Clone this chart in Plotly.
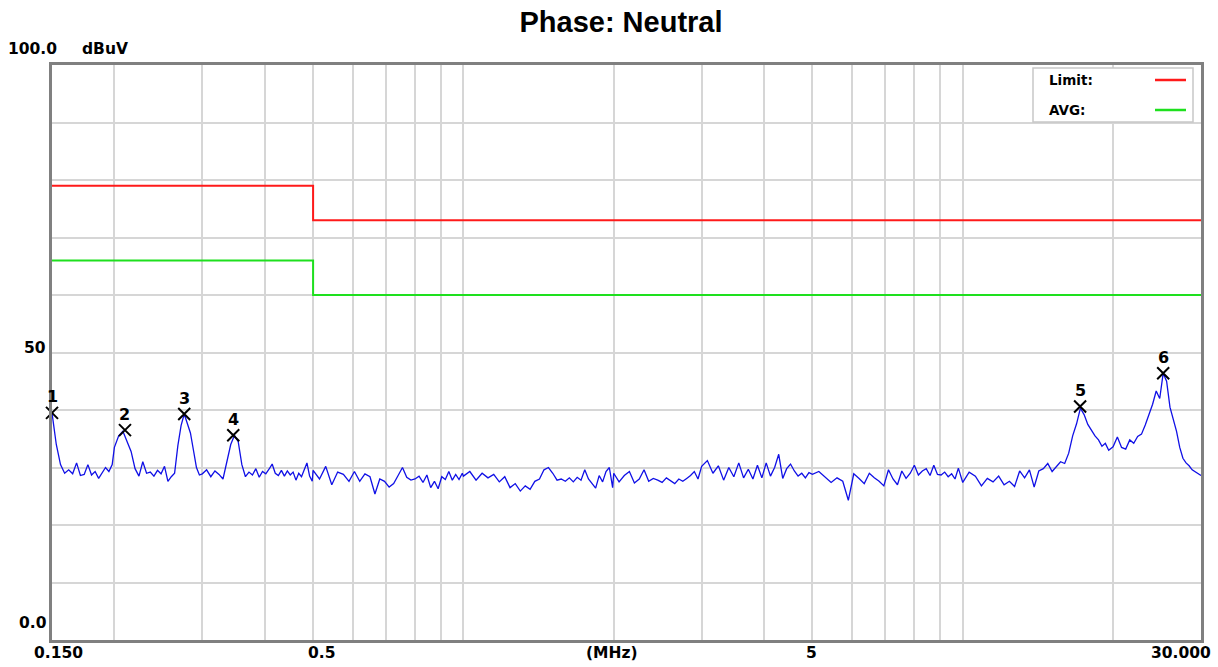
import numpy as np
import plotly.graph_objects as go

# ---------------- data ----------------
freq_mhz = [
    0.150, 0.153, 0.156, 0.159, 0.162, 0.165, 0.168, 0.171, 0.174, 0.177, 0.180, 0.183, 0.186, 0.189, 0.192, 0.195, 0.198,
    0.200, 0.204, 0.208, 0.212, 0.216, 0.220, 0.224, 0.228, 0.232, 0.236, 0.240, 0.244, 0.248, 0.252, 0.256, 0.260,
    0.264, 0.268, 0.272, 0.276, 0.280, 0.284, 0.288, 0.292, 0.296,
    0.300, 0.306, 0.312, 0.318, 0.324, 0.330, 0.336, 0.342, 0.348, 0.354, 0.360, 0.366, 0.372, 0.378, 0.384, 0.390,
    0.396, 0.402, 0.408, 0.414, 0.420, 0.426, 0.432, 0.438, 0.444, 0.450, 0.456, 0.462, 0.468, 0.474, 0.480, 0.486,
    0.492, 0.498,
    0.500, 0.515, 0.530, 0.545, 0.560, 0.575, 0.590, 0.605, 0.620, 0.635, 0.650, 0.665, 0.680, 0.695, 0.710, 0.725,
    0.740, 0.755, 0.770, 0.785, 0.800, 0.815, 0.830, 0.845, 0.860, 0.875, 0.890, 0.905, 0.920, 0.935, 0.950, 0.965,
    0.980, 0.995,
    1.00, 1.03, 1.06, 1.09, 1.12, 1.15, 1.18, 1.21, 1.24, 1.27, 1.30, 1.33, 1.36, 1.39, 1.42, 1.45, 1.48, 1.51,
    1.54, 1.57, 1.60, 1.63, 1.66, 1.69, 1.72, 1.75, 1.78, 1.81, 1.84, 1.87, 1.90, 1.93, 1.96, 1.99,
    2.00, 2.05, 2.10, 2.15, 2.20, 2.25, 2.30, 2.35, 2.40, 2.45, 2.50, 2.55, 2.60, 2.65, 2.70, 2.75, 2.80, 2.85,
    2.90, 2.95,
    3.00, 3.08, 3.16, 3.24, 3.32, 3.40, 3.48, 3.56, 3.64, 3.72, 3.80, 3.88, 3.96, 4.04, 4.12, 4.20, 4.28, 4.36,
    4.44, 4.52, 4.60, 4.68, 4.76, 4.84, 4.92,
    5.00, 5.15, 5.30, 5.45, 5.60, 5.75, 5.90, 6.05, 6.20, 6.35, 6.50, 6.65, 6.80, 6.95, 7.10, 7.25, 7.40, 7.55,
    7.70, 7.85, 8.00, 8.15, 8.30, 8.45, 8.60, 8.75, 8.90, 9.05, 9.20, 9.35, 9.50, 9.65, 9.80,
    10.0, 10.3, 10.6, 10.9, 11.2, 11.5, 11.8, 12.1, 12.4, 12.7, 13.0, 13.3, 13.6, 13.9, 14.2, 14.5, 14.8, 15.1,
    15.4, 15.7, 16.0, 16.3, 16.6, 16.9, 17.2, 17.5, 17.8, 18.1, 18.4, 18.7, 19.0, 19.3, 19.6,
    20.0, 20.4, 20.8, 21.2, 21.6, 22.0, 22.4, 22.8, 23.2, 23.6, 24.0, 24.4, 24.8, 25.2, 25.6, 26.0, 26.4, 26.8,
    27.2, 27.6, 28.0, 28.4, 28.8, 29.2, 29.6, 30.0,
]
level_dbuv = [
    39.5, 34.0, 30.5, 29.0, 29.6, 28.9, 30.8, 28.6, 28.8, 30.5, 28.7, 29.3, 28.1, 29.0, 30.0, 29.3, 30.5,
    33.5, 35.5, 36.3, 34.5, 32.8, 29.8, 28.5, 31.0, 29.0, 29.2, 28.5, 29.5, 28.9, 30.2, 27.6, 28.4,
    29.0, 33.8, 37.3, 39.3, 37.5, 36.0, 33.0, 30.0, 28.7,
    28.9, 29.6, 28.4, 29.4, 28.8, 28.0, 31.0, 34.0, 35.6, 34.5, 30.5, 28.4, 29.2, 28.7, 29.8, 28.3,
    29.3, 28.9, 29.7, 30.6, 29.0, 28.6, 29.5, 28.5, 29.4, 28.7, 29.2, 27.8, 29.0, 28.4, 29.6, 30.8,
    28.5, 27.6,
    29.5, 28.0, 30.2, 27.0, 29.2, 28.8, 27.6, 29.3, 27.6, 28.9, 28.4, 25.4, 28.0, 27.6, 26.6, 27.2,
    28.6, 30.0, 28.3, 27.8, 28.0, 28.5, 27.4, 28.7, 26.5, 27.6, 26.3, 28.4, 27.9, 29.3, 27.8, 28.8,
    27.9, 29.0,
    28.5, 29.3, 27.8, 29.0, 28.2, 28.8, 27.5, 28.4, 26.5, 27.2, 25.9, 26.8, 26.2, 27.6, 28.0, 29.6, 30.0, 29.0,
    27.8, 28.0, 27.6, 28.2, 27.5, 28.3, 27.8, 29.6, 28.0, 27.2, 26.4, 28.6, 27.5, 29.3, 30.0, 26.5,
    29.0, 27.5, 28.6, 29.3, 27.3, 28.0, 29.6, 27.6, 28.1, 27.8, 27.4, 28.2, 27.7, 27.2, 28.0, 27.6, 28.1, 28.6,
    29.3, 28.0,
    30.2, 31.2, 29.0, 30.3, 27.8, 30.0, 28.4, 30.8, 28.2, 29.7, 28.0, 30.4, 28.2, 30.8, 28.5, 30.0, 32.3, 28.1,
    29.8, 30.6, 29.4, 28.5, 29.0, 28.2, 29.1,
    28.8, 29.3, 28.3, 27.4, 28.2, 27.6, 24.3, 28.9, 28.1, 27.2, 29.0, 28.2, 27.6, 26.8, 29.6, 28.0, 27.0, 29.4,
    28.1, 29.0, 30.4, 28.7, 29.4, 29.8, 28.6, 30.4, 28.8, 28.7, 29.2, 28.4, 28.9, 28.0, 29.9,
    27.4, 29.2, 28.5, 26.8, 28.1, 27.5, 28.5, 27.0, 27.6, 26.7, 29.4, 28.2, 29.6, 26.6, 29.4, 29.8, 30.7, 29.3,
    30.2, 31.0, 30.7, 32.5, 35.5, 37.6, 40.3, 39.2, 37.5, 36.4, 35.5, 34.8, 33.7, 34.2, 33.0,
    33.6, 35.3, 33.5, 33.2, 34.8, 34.2, 35.4, 35.8, 37.4, 39.2, 41.0, 43.3, 42.0, 46.4, 45.0, 40.5, 38.6, 36.3,
    33.5, 31.6, 30.8, 30.3, 29.6, 29.3, 28.9, 28.6,
]

limit_freq = [0.15, 0.5, 30.0]
limit_qp = [79, 73, 73]
limit_avg = [66, 60, 60]

marker_freq = [0.150, 0.210, 0.276, 0.346, 17.18, 25.2]
marker_level = [39.5, 36.5, 39.3, 35.6, 40.6, 46.4]
marker_label = ["1", "2", "3", "4", "5", "6"]

x_grid = [0.2, 0.3, 0.4, 0.5, 0.6, 0.7, 0.8, 0.9, 1, 2, 3, 4, 5, 6, 7, 8, 9, 10, 20]
y_grid = [10, 20, 30, 40, 50, 60, 70, 80, 90]

# ---------------- layout geometry ----------------
W, H = 1218, 667
L, R, T, B = 52, 1201, 65, 640


def px(x):
    return (x - L) / (R - L)


def py(y):
    return (B - y) / (B - T)


fig = go.Figure()

fig.add_trace(go.Scatter(x=limit_freq, y=limit_qp, mode="lines", line=dict(color="#ff1a1a", width=2, shape="hv"),
                         showlegend=False, hoverinfo="skip"))
fig.add_trace(go.Scatter(x=limit_freq, y=limit_avg, mode="lines", line=dict(color="#1ee01e", width=2, shape="hv"),
                         showlegend=False, hoverinfo="skip"))
fig.add_trace(go.Scatter(x=freq_mhz, y=level_dbuv, mode="lines", line=dict(color="#1010e6", width=1.3),
                         showlegend=False))
fig.add_trace(go.Scatter(x=marker_freq, y=marker_level, mode="markers",
                         marker=dict(symbol="x-thin", size=12, color="black", line=dict(width=2, color="black")),
                         cliponaxis=False, showlegend=False))

annotations = []
for f, lv, lab in zip(marker_freq, marker_level, marker_label):
    annotations.append(dict(x=np.log10(f), y=lv, xref="x", yref="y", text="<b>" + lab + "</b>", showarrow=False,
                            yshift=16, font=dict(family="DejaVu Sans", size=16, color="black")))

lab_font = dict(family="DejaVu Sans", size=15.5, color="black")
text_items = [
    ("100.0", 32.5, 49), ("dBuV", 105, 49), ("50", 35, 348), ("0.0", 32.5, 623),
    ("0.150", 58.5, 653), ("0.5", 321.7, 653), ("(MHz)", 612, 653), ("5", 811, 653), ("30.000", 1181, 653),
]
for t, x0, y0 in text_items:
    annotations.append(dict(x=px(x0), y=py(y0), xref="paper", yref="paper", text="<b>" + t + "</b>",
                            showarrow=False, xanchor="center", yanchor="middle", font=lab_font))

leg_font = dict(family="DejaVu Sans", size=13.5, color="black")
annotations.append(dict(x=px(1047), y=py(80), xref="paper", yref="paper", text="<b>Limit:</b>", showarrow=False,
                        xanchor="left", yanchor="middle", font=leg_font))
annotations.append(dict(x=px(1047), y=py(110), xref="paper", yref="paper", text="<b>AVG:</b>", showarrow=False,
                        xanchor="left", yanchor="middle", font=leg_font))

shapes = [
    dict(type="rect", xref="paper", yref="paper", x0=px(1033), x1=px(1193), y0=py(122), y1=py(68),
         line=dict(color="#c8c8c8", width=1.5), fillcolor="white", layer="above"),
    dict(type="line", xref="paper", yref="paper", x0=px(1155), x1=px(1186), y0=py(80), y1=py(80),
         line=dict(color="#ff1a1a", width=2.5), layer="above"),
    dict(type="line", xref="paper", yref="paper", x0=px(1155), x1=px(1186), y0=py(110), y1=py(110),
         line=dict(color="#1ee01e", width=2.5), layer="above"),
]

fig.update_layout(
    width=W, height=H,
    margin=dict(l=L, r=W - R, t=T, b=H - B),
    paper_bgcolor="white", plot_bgcolor="white",
    title=dict(text="<b>Phase: Neutral</b>", x=px(621), y=1 - 22 / H, xref="paper", yref="container",
               xanchor="center", yanchor="middle",
               font=dict(family="Liberation Sans, Arial", size=29, color="black")),
    xaxis=dict(type="log", range=[np.log10(0.15), np.log10(30)], tickvals=x_grid, showticklabels=False,
               ticks="", showgrid=True, gridcolor="#d6d6d6", gridwidth=2, zeroline=False,
               showline=True, linecolor="#808080", linewidth=3, mirror=True),
    yaxis=dict(range=[0, 100], tickvals=y_grid, showticklabels=False, ticks="", showgrid=True,
               gridcolor="#d6d6d6", gridwidth=2, zeroline=False,
               showline=True, linecolor="#808080", linewidth=3, mirror=True),
    annotations=annotations,
    shapes=shapes,
    showlegend=False,
)

fig.write_html("out.html")
